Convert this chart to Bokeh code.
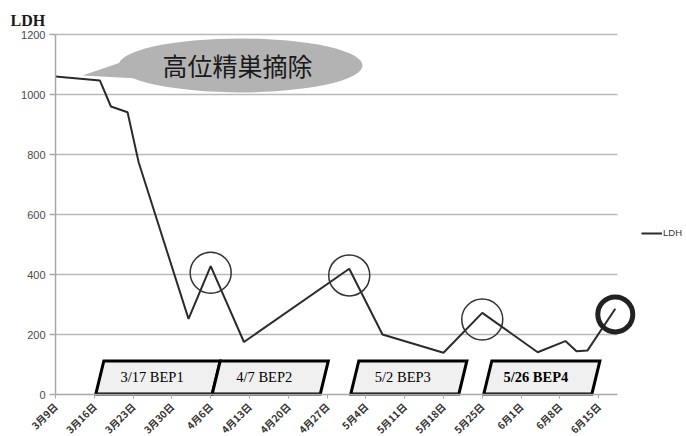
import math
import pandas as pd
from bokeh.plotting import figure
from bokeh.models import (Range1d, FixedTicker, Legend, LegendItem, Label,
                          ColumnDataSource)
from bokeh.core.properties import value
from bokeh.embed import file_html
from bokeh.resources import INLINE

# LDH measurements
dates = ["2011-03-09", "2011-03-17", "2011-03-19", "2011-03-22", "2011-03-24",
         "2011-04-02", "2011-04-06", "2011-04-12", "2011-05-01", "2011-05-07",
         "2011-05-18", "2011-05-25", "2011-06-04", "2011-06-09", "2011-06-11",
         "2011-06-13", "2011-06-18"]
ldh = [1060, 1047, 960, 941, 774, 252, 428, 175, 419, 200, 139, 272, 141,
       178, 144, 147, 286]

# weekly axis labels
tick_dates = ["2011-03-09", "2011-03-16", "2011-03-23", "2011-03-30",
              "2011-04-06", "2011-04-13", "2011-04-20", "2011-04-27",
              "2011-05-04", "2011-05-11", "2011-05-18", "2011-05-25",
              "2011-06-01", "2011-06-08", "2011-06-15"]
tick_labels = ["3月9日", "3月16日", "3月23日", "3月30日", "4月6日", "4月13日",
               "4月20日", "4月27日", "5月4日", "5月11日", "5月18日", "5月25日",
               "6月1日", "6月8日", "6月15日"]
y_ticks = [0, 200, 400, 600, 800, 1000, 1200]

# chemotherapy courses
bep_dates = ["2011-03-17", "2011-04-07", "2011-05-02", "2011-05-26"]
bep_labels = ["3/17 BEP1", "4/7 BEP2", "5/2 BEP3", "5/26 BEP4"]

# highlighted measurements (indices into the series)
marked = [6, 8, 11]
latest = 16

surgery_label = "高位精巣摘除"

origin = pd.Timestamp(dates[0])


def day(d):
    return (pd.Timestamp(d) - origin).days


x = [day(d) for d in dates]
ticks = [day(d) for d in tick_dates]

# plotted span of the date axis (days after the first measurement)
AXIS_END = 101.4
# pixel scale of the plotting area
px_day = 562.0 / AXIS_END
px_val = 360.0 / 1200

# the frame fills the whole canvas; both axes cross at (0, 0)
p = figure(width=686, height=436, output_backend="svg", toolbar_location=None,
           x_range=Range1d(-55 / px_day, 631 / px_day),
           y_range=Range1d(-42 / px_val, 1200 + 34 / px_val),
           min_border_left=0, min_border_right=0, min_border_top=0,
           min_border_bottom=0)
p.outline_line_color = None
p.background_fill_color = "white"
p.title.visible = False

# value axis title
p.add_layout(Label(x=-45 / px_day, y=1247, text="LDH",
                   text_font="Liberation Serif", text_font_style="bold",
                   text_font_size="16px", text_color="#1a1a1a",
                   text_baseline="alphabetic"))

# horizontal grid, limited to the date span
p.xgrid.grid_line_color = None
p.ygrid.grid_line_color = None
grid_vals = y_ticks[1:]
p.segment(x0=[0] * len(grid_vals), x1=[AXIS_END] * len(grid_vals),
          y0=grid_vals, y1=grid_vals, line_color="#b9b9b9", line_width=1.5,
          level="underlay")

yax = p.yaxis[0]
yax.fixed_location = 0
yax.bounds = (0, 1200)
yax.ticker = FixedTicker(ticks=y_ticks)
yax.axis_line_color = "#a8a8a8"
yax.axis_line_width = 1.5
yax.major_tick_line_color = "#a8a8a8"
yax.major_tick_line_width = 1.5
yax.major_tick_out = 6
yax.major_tick_in = 0
yax.minor_tick_line_color = None
yax.major_label_text_font = "Liberation Sans"
yax.major_label_text_font_size = "11px"
yax.major_label_text_color = "#4a4a4a"
yax.major_label_standoff = 4

xax = p.xaxis[0]
xax.fixed_location = 0
xax.bounds = (0, AXIS_END)
xax.ticker = FixedTicker(ticks=ticks)
xax.major_label_overrides = {t: lab for t, lab in zip(ticks, tick_labels)}
xax.major_label_orientation = math.pi / 4
xax.axis_line_color = "#a8a8a8"
xax.axis_line_width = 1.5
xax.major_tick_line_color = "#a8a8a8"
xax.major_tick_out = 4
xax.major_tick_in = 0
xax.minor_tick_line_color = None
xax.major_label_text_font = "Noto Sans CJK JP"
xax.major_label_text_font_style = "bold"
xax.major_label_text_font_size = "10px"
xax.major_label_text_color = "#333333"
xax.major_label_standoff = 6

# speech bubble
p.ellipse(x=[185 / px_day], y=[1097], width=[244 / px_day], height=[180],
          fill_color="#b3b3b3", line_color=None)
p.patch(x=[27 / px_day, 71 / px_day, 83 / px_day],
        y=[1063, 1113, 1053], fill_color="#b3b3b3", line_color=None)
p.text(x=[182 / px_day], y=[1097], text=[surgery_label],
       text_font=value("Noto Sans CJK JP"), text_font_size="25px",
       text_color="#1a1a1a", text_align="center", text_baseline="middle")

# BEP course boxes
box_days = [21, 19.5, 19.5, 19.5]
skew = 4 / px_day
b0, b1 = 2, 112
xs, ys, cx = [], [], []
for d, w in zip(bep_dates, box_days):
    s = day(d)
    e = s + w
    xs.append([s - skew, s + skew, e + skew, e - skew])
    ys.append([b0, b1, b1, b0])
    cx.append((s + e) / 2 - 6 / px_day)
p.patches(xs=xs, ys=ys, fill_color="#f0f0f0", line_color="black",
          line_width=3, line_join="miter")
styles = ["bold" if i == len(bep_labels) - 1 else "normal"
          for i in range(len(bep_labels))]
p.text(source=ColumnDataSource(dict(x=cx, y=[57] * len(cx), t=bep_labels,
                                    s=styles)),
       x="x", y="y", text="t", text_font_style="s",
       text_font=value("Liberation Serif"), text_font_size="14.5px",
       text_color="black", text_align="center", text_baseline="middle")

# LDH series
line_r = p.line(x=x, y=ldh, line_color="#2b2b2b", line_width=2)

# circled peaks
p.scatter(x=[x[i] for i in marked], y=[ldh[i] - 22 for i in marked],
          marker="circle", size=41, fill_color=None, line_color="#333333",
          line_width=1.5)
p.scatter(x=[x[latest]], y=[ldh[latest] - 19], marker="circle", size=35,
          fill_color=None, line_color="#222222", line_width=5)

# legend (location measured from the bottom-left of the frame)
legend = Legend(items=[LegendItem(label="LDH", renderers=[line_r])],
                location=(641, 198), border_line_color=None,
                background_fill_alpha=0, padding=0, margin=0, spacing=0,
                glyph_width=21, glyph_height=10, label_standoff=1,
                label_text_font="Liberation Sans", label_text_font_size="9.5px",
                label_text_color="#333333", label_height=10)
p.add_layout(legend)

open("out.html", "w").write(file_html(p, INLINE))
